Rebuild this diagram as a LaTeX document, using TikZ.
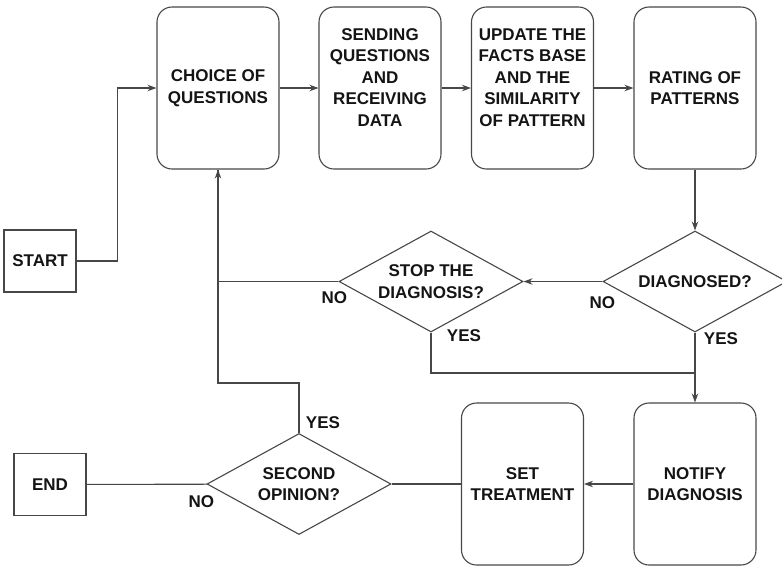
\documentclass[tikz,border=0pt]{standalone}
\usepackage{fontspec}
\setmainfont{Liberation Sans}
\usetikzlibrary{arrows.meta,shapes.geometric}

\begin{document}
\begin{tikzpicture}[x=1pt,y=-1pt,line width=1.1pt,color=black!72,
    txt/.style={font=\fontsize{17}{21.5}\selectfont\bfseries,text=black!92,align=center},
    procbox/.style={txt,draw,rounded corners=15pt,minimum width=122pt,minimum height=162pt,inner sep=0pt},
    termbox/.style={txt,draw,minimum width=72pt,minimum height=62pt,inner sep=0pt},
    decision/.style={txt,draw,diamond,aspect=1.82,inner sep=0pt,minimum width=184pt,minimum height=101pt},
    lbl/.style={txt,inner sep=0pt},
    arr/.style={-{Stealth[length=9pt,width=6.5pt]}}]
      \useasboundingbox (0,0) rectangle (782,566);
      % top row
      \node[termbox] (start) at (40,261) {START};
      \node[procbox] (choice) at (218,88) {CHOICE OF\\QUESTIONS};
      \node[procbox] (sending) at (380,88) {SENDING\\QUESTIONS\\AND\\RECEIVING\\DATA\\~};
      \node[procbox] (update) at (532.5,88) {UPDATE THE\\FACTS BASE\\AND THE\\SIMILARITY\\OF PATTERN\\~};
      \node[procbox] (rating) at (695,88) {RATING OF\\PATTERNS};
      % decisions
      \node[decision] (diag) at (695,281.5) {DIAGNOSED?};
      \node[decision] (stop) at (431,281.5) {STOP THE\\DIAGNOSIS?};
      % bottom row
      \node[procbox] (notify) at (695,484) {NOTIFY\\DIAGNOSIS};
      \node[procbox] (treat) at (522.5,484) {SET\\TREATMENT};
      \node[decision] (second) at (299,484) {SECOND\\OPINION?};
      \node[termbox] (end) at (50,484.5) {END};
      \coordinate (join) at (695,373);

      \draw[arr] (start.east) -- ++(41,0) |- (choice.west);
      \foreach \a/\b in {choice/sending,sending/update,update/rating}
        \draw[arr] (\a) -- (\b);
      \draw[arr] (rating.south) -- (diag.north);
      \draw[arr] (diag.west) -- (stop.east);
      \draw[arr] (stop.west) -| (choice.south);
      \draw (stop.south) |- (join);
      \draw[arr] (diag.south) -- (notify.north);
      \draw[arr] (notify) -- (treat);
      \draw (treat) -- (second);
      \draw (second) -- (end);
      \draw (second.north) -- ++(0,-50) -| (choice.south);

      % yes / no marks
      \node[lbl] (diagno) at ([shift={(0,21)}]diag.west) {NO};
      \node[lbl] (diagyes) at ([shift={(26,6)}]diag.south) {YES};
      \node[lbl] (stopno) at ([shift={(-4,16)}]stop.west) {NO};
      \node[lbl] (stopyes) at ([shift={(33,3)}]stop.south) {YES};
      \node[lbl] (secondno) at ([shift={(-5,18)}]second.west) {NO};
      \node[lbl] (secondyes) at ([shift={(24,-10)}]second.north) {YES};
    \end{tikzpicture}
\end{document}
